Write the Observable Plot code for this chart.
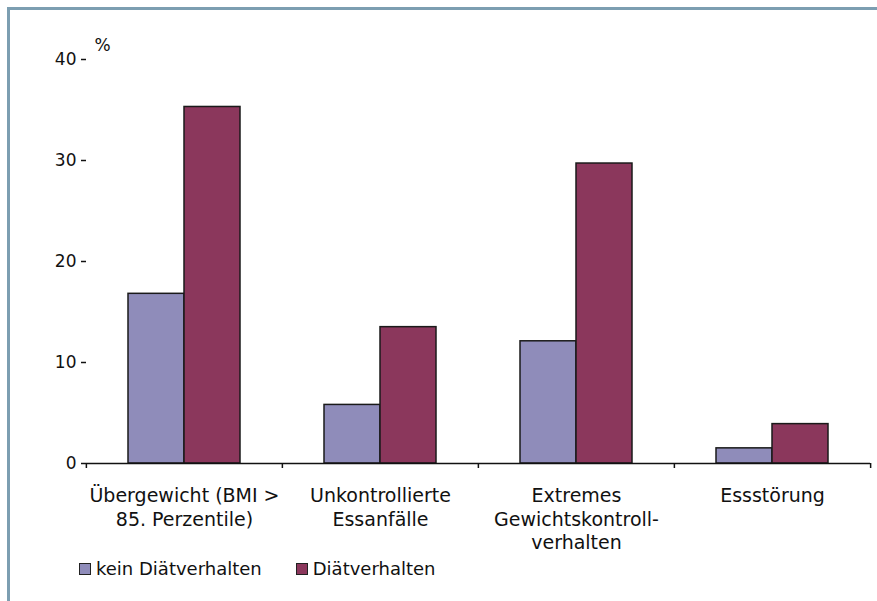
<!DOCTYPE html>
<html>
<head>
<meta charset="utf-8">
<script src="https://cdn.jsdelivr.net/npm/d3@7"></script>
<script src="https://cdn.jsdelivr.net/npm/@observablehq/plot@0.6"></script>
<style>
  html, body { margin: 0; padding: 0; background: #fff; }
  body { width: 877px; height: 601px; overflow: hidden; position: relative; font-family: "DejaVu Sans", sans-serif; color: #111; }
  #frame { position: absolute; left: 7px; top: 7px; width: 867px; height: 594px;
           border-top: 3px solid #7c9eb1; border-left: 3px solid #7c9eb1; }
  #chart { position: absolute; left: 0; top: 0; }
  #legend { position: absolute; left: 69px; top: 548px; display: flex; align-items: center; gap: 34px; font-size: 18px; line-height: 22px; }
  .item { display: flex; align-items: center; gap: 5px; }
  .sw { width: 10px; height: 10px; border: 1px solid #222; }
</style>
</head>
<body>
<div id="frame">
  <div id="chart"></div>
  <div id="legend"></div>
</div>
<script>
const categories = ["Übergewicht", "Unkontrollierte Essanfälle", "Extremes Gewichtskontrollverhalten", "Essstörung"];
const categoryLabels = ["Übergewicht (BMI >\n85. Perzentile)", "Unkontrollierte\nEssanfälle", "Extremes\nGewichtskontroll-\nverhalten", "Essstörung"];
const series = ["kein Diätverhalten", "Diätverhalten"];
const keinDiaet = [16.8, 5.8, 12.1, 1.5];
const diaet = [35.3, 13.5, 29.7, 3.9];
const colors = ["#8f8cba", "#8b375c"];
const yTicks = [0, 10, 20, 30, 40];
const unitLabel = "%";

const data = [];
categories.forEach((c, i) => {
  data.push({cat: c, series: series[0], value: keinDiaet[i]});
  data.push({cat: c, series: series[1], value: diaet[i]});
});
const labelOf = new Map(categories.map((c, i) => [c, categoryLabels[i]]));

const W = 867, H = 546, ML = 75, MR = 7;
const halfBand = (W - ML - MR) / categories.length / 2;

const chart = Plot.plot({
  width: W,
  height: H,
  marginLeft: ML,
  marginRight: MR,
  marginTop: 49,
  marginBottom: H - 453,
  style: { fontFamily: "'DejaVu Sans', sans-serif", fontSize: "17px", color: "#111", background: "transparent" },
  fx: { domain: categories, padding: 0, axis: null },
  x: { domain: series, paddingInner: 0, paddingOuter: 0.72, axis: null },
  y: { domain: [0, 40], axis: null },
  color: { domain: series, range: colors },
  marks: [
    Plot.barY(data, { fx: "cat", x: "series", y: "value", fill: "series", stroke: "#1a1a1a", strokeWidth: 1.5 }),
    Plot.ruleY([0], { stroke: "#111", strokeWidth: 1.5 }),
    Plot.ruleX([{c: categories[0]}], { fx: "c", y1: 0, y2: 40, dx: -halfBand, stroke: "#111", strokeWidth: 1.5 }),
    Plot.axisY({ ticks: yTicks, tickSize: 5, tickPadding: 5, fontSize: 17, stroke: "#111", strokeWidth: 1.5, label: null }),
    Plot.axisFx({ anchor: "bottom", tickSize: 5, tickFormat: () => "", dx: -halfBand, stroke: "#111", strokeWidth: 1.5, label: null }),
    Plot.axisFx({ anchor: "bottom", ticks: [categories[categories.length - 1]], tickSize: 5, tickFormat: () => "", dx: halfBand, stroke: "#111", strokeWidth: 1.5, label: null }),
    Plot.axisFx({ anchor: "bottom", tickSize: 0, tickPadding: 22, fontSize: 19, lineHeight: 1.24, tickFormat: d => labelOf.get(d), label: null }),
    Plot.text([{c: categories[0], t: unitLabel}], { fx: "c", text: "t", frameAnchor: "top-left", textAnchor: "start", lineAnchor: "top", dx: 8, dy: -21, fontSize: 17, fill: "#111" })
  ]
});
document.getElementById("chart").appendChild(chart);

const legend = document.getElementById("legend");
series.forEach((s, i) => {
  const item = document.createElement("div");
  item.className = "item";
  const sw = document.createElement("span");
  sw.className = "sw";
  sw.style.background = colors[i];
  const t = document.createElement("span");
  t.textContent = s;
  item.appendChild(sw);
  item.appendChild(t);
  legend.appendChild(item);
});
</script>
</body>
</html>
